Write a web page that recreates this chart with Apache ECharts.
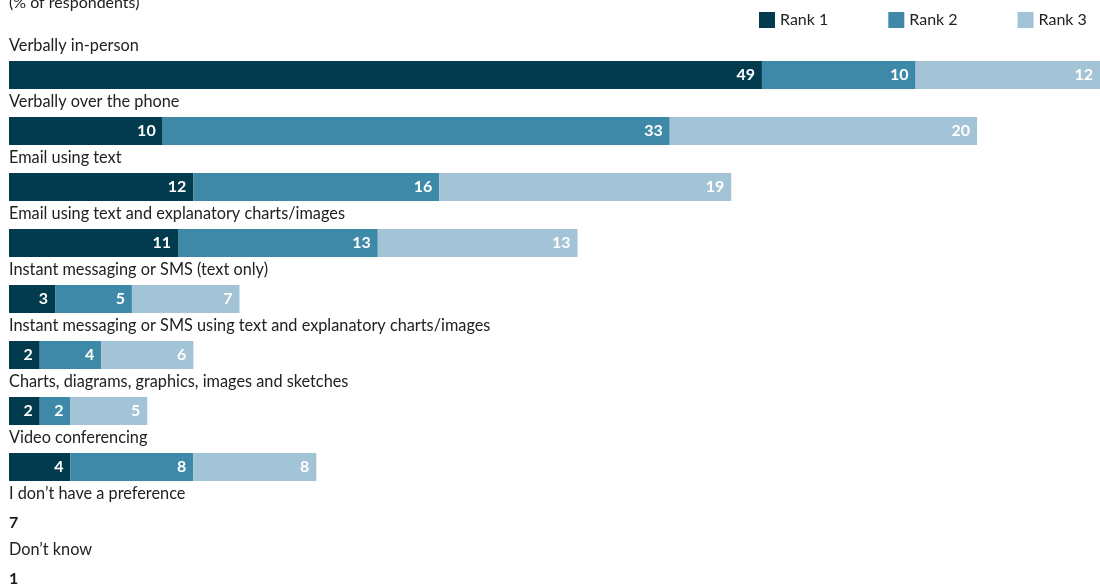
<!DOCTYPE html>
<html>
<head>
<meta charset="utf-8">
<script src="https://cdn.jsdelivr.net/npm/echarts@6/dist/echarts.min.js"></script>
<style>html,body{margin:0;padding:0;background:#fff}#c{width:1100px;height:585px}</style>
</head>
<body>
<div id="c"></div>
<script>
const categories = [
  "Verbally in-person",
  "Verbally over the phone",
  "Email using text",
  "Email using text and explanatory charts/images",
  "Instant messaging or SMS (text only)",
  "Instant messaging or SMS using text and explanatory charts/images",
  "Charts, diagrams, graphics, images and sketches",
  "Video conferencing",
  "I don\u2019t have a preference",
  "Don\u2019t know"
];
const seriesNames = ["Rank 1", "Rank 2", "Rank 3"];
const rank1 = [49, 10, 12, 11, 3, 2, 2, 4, null, null];
const rank2 = [10, 33, 16, 13, 5, 4, 2, 8, null, null];
const rank3 = [12, 20, 19, 13, 7, 6, 5, 8, null, null];
const totals = [null, null, null, null, null, null, null, null, 7, 1];
const colors = ["#023a4e", "#3e89a8", "#a3c3d6"];
const FONT = "Lato";

const chart = echarts.init(document.getElementById('c'), null, {renderer: 'canvas'});
const rankData = [rank1, rank2, rank3];
const series = rankData.map((d, i) => ({
  name: seriesNames[i],
  type: 'bar',
  stack: 'a',
  barWidth: 28,
  data: d,
  itemStyle: {color: colors[i]},
  label: {
    show: true,
    position: 'insideRight',
    distance: 7,
    color: '#fff',
    fontFamily: FONT,
    fontWeight: 'bold',
    fontSize: 16
  },
  emphasis: {disabled: true},
  silent: true
}));
series.push({
  name: 'Total',
  type: 'bar',
  stack: 'a',
  barWidth: 28,
  data: totals,
  itemStyle: {color: 'rgba(0,0,0,0)'},
  label: {
    show: true,
    position: 'insideLeft',
    distance: 0,
    color: '#1a1a1a',
    fontFamily: FONT,
    fontWeight: 'bold',
    fontSize: 16
  },
  silent: true
});

chart.setOption({
  animation: false,
  title: {
    text: '(% of respondents)',
    left: 4,
    top: -10,
    textStyle: {fontFamily: FONT, fontSize: 16, fontWeight: 'normal', color: '#222'}
  },
  legend: {
    data: seriesNames,
    left: 759,
    top: 12,
    width: 341,
    padding: 0,
    itemWidth: 16,
    itemHeight: 16,
    itemGap: 60,
    icon: 'rect',
    selectedMode: false,
    textStyle: {fontFamily: FONT, fontSize: 16, color: '#222'}
  },
  grid: {left: 9, top: 47, width: 1091, height: 560, containLabel: false, outerBoundsMode: 'none'},
  xAxis: {
    type: 'value',
    min: 0,
    max: 71,
    show: false
  },
  yAxis: {
    type: 'category',
    inverse: true,
    data: categories,
    axisLine: {show: false},
    axisTick: {show: false},
    splitLine: {show: false},
    axisLabel: {
      inside: true,
      margin: 0,
      interval: 0,
      fontFamily: FONT,
      fontSize: 16.3,
      color: '#222',
      verticalAlign: 'middle',
      lineHeight: 58,
      formatter: v => v + '\n '
    }
  },
  series: series
});
</script>
</body>
</html>
